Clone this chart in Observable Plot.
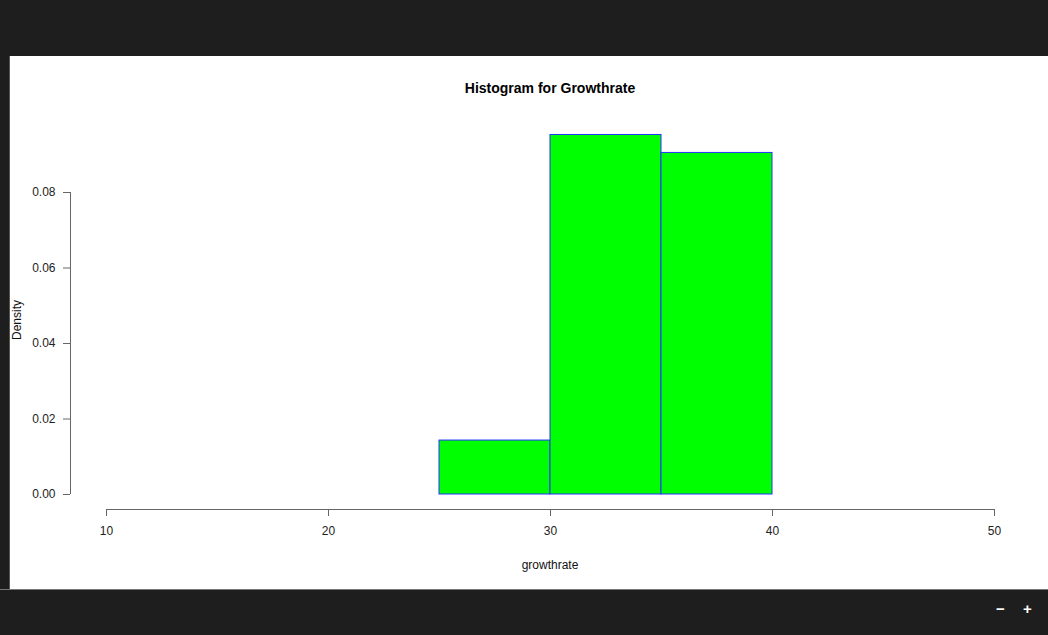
<!DOCTYPE html>
<html>
<head>
<meta charset="utf-8">
<script src="https://cdn.jsdelivr.net/npm/d3@7"></script>
<script src="https://cdn.jsdelivr.net/npm/@observablehq/plot@0.6"></script>
<style>
  html, body { margin: 0; padding: 0; width: 1048px; height: 635px; overflow: hidden; background: #1e1e1e; font-family: "Liberation Sans", Arial, sans-serif; }
  #top { position: absolute; left: 0; top: 0; width: 1048px; height: 56px; background: #1e1e1e; }
  #panel { position: absolute; left: 9px; top: 56px; width: 1039px; height: 533px; background: #fff; border-left: 1px solid #555; box-sizing: border-box; }
  #chart { position: absolute; left: 0; top: 56px; }
  #bottom { position: absolute; left: 0; top: 589px; width: 1048px; height: 46px; background: #1e1e1e; border-top: 1px solid #777; box-sizing: border-box; }
  .ctl { position: absolute; color: #fff; font-weight: bold; font-size: 15px; top: 10px; }
  .lbl { position: absolute; color: #111; font-size: 12px; white-space: nowrap; }
  #title { position: absolute; font-weight: bold; font-size: 14px; color: #000; left: 0; width: 1100px; text-align: center; top: 80px; }
</style>
</head>
<body>
<div id="top"></div>
<div id="panel"></div>
<div id="chart"></div>
<div id="title">Histogram for Growthrate</div>
<div class="lbl" style="left:550px; top:558px; transform:translateX(-50%);">growthrate</div>
<div class="lbl" style="left:17px; top:320px; transform:translate(-50%,-50%) rotate(-90deg);">Density</div>
<div id="bottom"><span class="ctl" style="left:996px;">−</span><span class="ctl" style="left:1023px;">+</span></div>
<script>
// Histogram bins (growthrate) and densities
const binStart = [25, 30, 35];
const binEnd = [30, 35, 40];
const density = [0.01429, 0.09524, 0.09048];
const xTicks = [10, 20, 30, 40, 50];
const yTicks = [0, 0.02, 0.04, 0.06, 0.08];

const bars = binStart.map((s, i) => ({x1: s, x2: binEnd[i], y: density[i]}));

const chart = Plot.plot({
  width: 1048,
  height: 533,
  marginLeft: 106,
  marginRight: 54,
  marginTop: 136,
  marginBottom: 95,
  style: {background: "transparent", fontFamily: "Liberation Sans, Arial, sans-serif", fontSize: "12px", color: "#222", overflow: "visible"},
  x: {domain: [10, 50]},
  y: {domain: [0, 0.08]},
  marks: [
    Plot.rectY(bars, {x1: "x1", x2: "x2", y1: 0, y2: "y", fill: "#00ff00", stroke: "#2233ff", strokeWidth: 1, inset: 0}),
    Plot.ruleX([10], {y1: 0, y2: 0.08, dx: -36, stroke: "#666"}),
    Plot.axisY({ticks: yTicks, tickFormat: d3.format(".2f"), dx: -36, tickSize: 7, tickPadding: 8, stroke: "#666", label: null, fill: "#222"}),
    Plot.ruleY([0], {x1: 10, x2: 50, dy: 15, stroke: "#666"}),
    Plot.axisX({ticks: xTicks, dy: 15, tickSize: 7, tickPadding: 10, stroke: "#666", label: null, fill: "#222"})
  ]
});
document.getElementById("chart").appendChild(chart);
</script>
</body>
</html>
